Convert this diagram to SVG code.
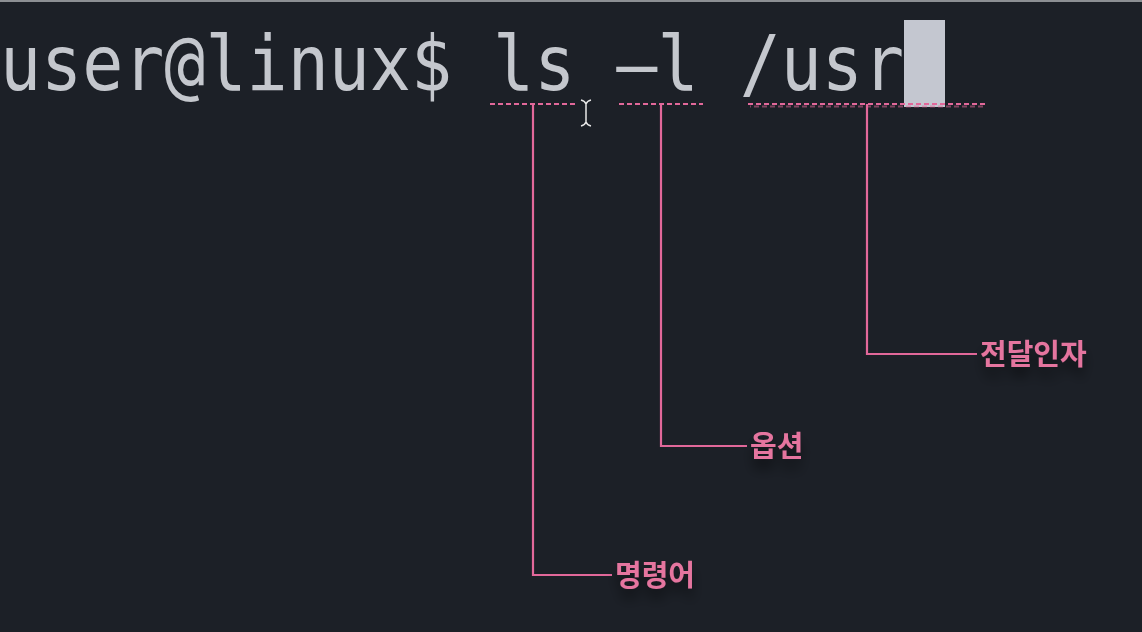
<svg xmlns="http://www.w3.org/2000/svg" width="1142" height="632" viewBox="0 0 1142 632">
  <defs>
    <style>
      .term { font-family: "DejaVu Sans Mono", "Liberation Mono", monospace; font-size: 77px; fill: #c4c7cd; }
      .lbl { font-family: "Noto Sans CJK KR", "Noto Sans", sans-serif; font-size: 29px; font-weight: 700; fill: #e5759f; }
      .lead { fill: none; stroke: #e2689a; stroke-width: 2.2; }
      .dash { fill: none; stroke: #e2689a; stroke-width: 2; stroke-dasharray: 5 3; }
    </style>
    <filter id="shadow" x="-30%" y="-30%" width="160%" height="200%">
      <feGaussianBlur in="SourceAlpha" stdDeviation="6"/>
      <feOffset dy="10"/>
      <feComponentTransfer><feFuncA type="linear" slope="0.5"/></feComponentTransfer>
      <feMerge><feMergeNode/><feMergeNode in="SourceGraphic"/></feMerge>
    </filter>
  </defs>
  <rect x="0" y="0" width="1142" height="632" fill="#1c2027"/>
  <rect x="0" y="0" width="1142" height="2" fill="#8c8f93"/>

  <g id="terminal">
    <text class="term" x="0" y="90" textLength="904" lengthAdjust="spacingAndGlyphs">user@linux$ ls –l /usr</text>
    <rect x="904" y="20" width="41" height="87" fill="#c4c7d0"/>
  </g>

  <g id="mouse-cursor" fill="none" stroke="#e8e8e8" stroke-width="1.5">
    <path d="M581 100 Q585 101 586 104 L586 122 Q585 125 581 126 M591 100 Q587 101 586 104 M586 122 Q587 125 591 126"/>
  </g>

  <g id="connectors">
    <path class="dash" d="M490 104 H576"/>
    <path class="dash" d="M619 104 H703"/>
    <path class="dash" d="M748 104 H986"/>
    <path class="dash" d="M750 106.5 H986" stroke-opacity="0.5" stroke-dashoffset="4"/>
    <path class="lead" d="M533 104 V575 H612"/>
    <path class="lead" d="M661 104 V446 H747"/>
    <path class="lead" d="M867 104 V354 H977"/>
  </g>

  <g id="node-command" filter="url(#shadow)">
    <text class="lbl" x="615" y="586">명령어</text>
  </g>
  <g id="node-option" filter="url(#shadow)">
    <text class="lbl" x="750" y="457">옵션</text>
  </g>
  <g id="node-argument" filter="url(#shadow)">
    <text class="lbl" x="980" y="365">전달인자</text>
  </g>
</svg>
